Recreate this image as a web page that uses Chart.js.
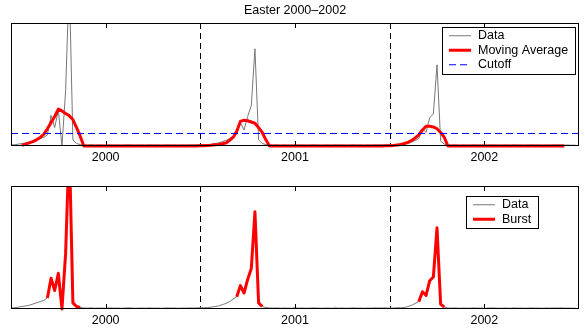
<!DOCTYPE html>
<html lang="en">
<head>
<meta charset="UTF-8">
<title>Easter 2000–2002</title>
<script src="https://cdn.jsdelivr.net/npm/chart.js"></script>
<style>
  html, body { margin: 0; padding: 0; background: #fff; overflow: hidden; }
  .panel { position: absolute; left: 0; width: 585px; }
  #top { top: 0; height: 169px; }
  #bottom { top: 168px; height: 164px; }
</style>
</head>
<body>
<div class="panel" id="top"><canvas id="avgChart" width="585" height="169"></canvas></div>
<div class="panel" id="bottom"><canvas id="burstChart" width="585" height="164"></canvas></div>
<script>
const titleText = 'Easter 2000–2002';
const tickValues = [2000.5, 2001.5, 2002.5];
const tickLabels = ['2000', '2001', '2002'];
const yearBreaks = [2001, 2002];
const startYear = 2000;
const weeksPerYear = 52;
const cutoff = 10.2;
const yMax = 100;

// weekly values, one array per year
const data2000 = [1, 1, 1.5, 2, 2.5, 3, 4, 5, 6, 7,
  9, 25, 15, 29, 0, 45, 135, 5, 2, 1.2,
  0.8, 0.7, 0.9, 0.6, 0.8, 0.7, 0.6, 0.9, 0.7, 0.8,
  0.6, 0.7, 0.9, 0.8, 0.6, 0.7, 0.8, 0.6, 0.9, 0.7,
  0.8, 0.6, 0.7, 0.9, 0.7, 0.8, 0.6, 0.8, 0.7, 0.9,
  0.8, 0.9];
const data2001 = [1, 1, 1.2, 1.5, 2, 2.5, 3.5, 4.5, 6, 8,
  10, 19, 13, 24, 33, 79, 5, 2, 1.2, 0.8,
  0.7, 0.9, 0.6, 0.8, 0.7, 0.6, 0.9, 0.7, 0.8, 0.6,
  0.7, 0.9, 0.8, 0.6, 0.7, 0.8, 0.6, 0.9, 0.7, 0.8,
  0.6, 0.7, 0.9, 0.7, 0.8, 0.6, 0.8, 0.7, 0.9, 0.8,
  0.9, 0.8];
const data2002 = [0.8, 0.8, 1, 1, 1.2, 2, 3, 4.5, 6, 14,
  11, 23, 26, 66, 4, 1.5, 0.8, 0.7, 0.9, 0.6,
  0.8, 0.7, 0.6, 0.9, 0.7, 0.8, 0.6, 0.7, 0.9, 0.8,
  0.6, 0.7, 0.8, 0.6, 0.9, 0.7, 0.8, 0.6, 0.7, 0.9,
  0.7, 0.8, 0.6, 0.8, 0.7, 0.9, 0.8, 0.9, 0.7, 0.8,
  0.6, 0.7];

const avg2000 = [null, null, null, 0.5, 1.5, 2.5, 3.5, 5, 7, 9.5,
  14, 19, 24, 30, 28.5, 26.5, 24.5, 21.5, 15, 8,
  0, 0, 0, 0, 0, 0, 0, 0, 0, 0,
  0, 0, 0, 0, 0, 0, 0, 0, 0, 0,
  0, 0, 0, 0, 0, 0, 0, 0, 0, 0,
  0, 0.1];
const avg2001 = [0.2, 0.3, 0.5, 0.7, 1, 1.3, 1.8, 2.5, 4.5, 7,
  12, 20, 21, 20.5, 19.5, 18.5, 15, 11, 5, 0,
  0, 0, 0, 0, 0, 0, 0, 0, 0, 0,
  0, 0, 0, 0, 0, 0, 0, 0, 0, 0,
  0, 0, 0, 0, 0, 0, 0, 0, 0, 0,
  0.1, 0.2];
const avg2002 = [0.3, 0.5, 0.8, 1.2, 2, 3, 4.5, 6.5, 9, 13,
  16, 16, 15.5, 14, 11, 7, 0, 0, 0, 0,
  0, 0, 0, 0, 0, 0, 0, 0, 0, 0,
  0, 0, 0, 0, 0, 0, 0, 0, 0, 0,
  0, 0, 0, 0, 0, 0, 0, 0, 0, null,
  null, null];

// week index ranges flagged as bursts
const burstWeeks = [[10, 19], [62, 69], [112, 119]];

const series = data2000.concat(data2001, data2002);
const movingAvg = avg2000.concat(avg2001, avg2002);
const weeks = series.map((v, i) => startYear + i / weeksPerYear);
const burst = series.map((v, i) => burstWeeks.some(([a, b]) => i >= a && i <= b) ? v : null);
const pts = arr => arr.map((v, i) => ({ x: weeks[i], y: v }));

const fontFamily = '"Liberation Sans", Arial, Helvetica, sans-serif';
const fontSize = 12.5;

const matlabAxes = {
  id: 'matlabAxes',
  beforeDatasetsDraw(chart) {
    const { ctx, chartArea: a, scales: { x } } = chart;
    ctx.save();
    ctx.strokeStyle = '#000';
    ctx.lineWidth = 1;
    ctx.setLineDash([6, 4]);
    yearBreaks.forEach(v => {
      const px = Math.round(x.getPixelForValue(v)) + 0.5;
      ctx.beginPath();
      ctx.moveTo(px, a.top);
      ctx.lineTo(px, a.bottom);
      ctx.stroke();
    });
    ctx.restore();
  },
  afterDatasetsDraw(chart, args, opts) {
    const { ctx, chartArea: a, scales: { x } } = chart;
    ctx.save();
    ctx.strokeStyle = '#000';
    ctx.lineWidth = 1;
    ctx.setLineDash([]);
    ctx.strokeRect(a.left + 0.5, a.top + 0.5, a.right - a.left - 1, a.bottom - a.top - 1);
    x.ticks.forEach(t => {
      const px = Math.round(x.getPixelForValue(t.value)) + 0.5;
      ctx.beginPath();
      ctx.moveTo(px, a.top);
      ctx.lineTo(px, a.top + 5);
      ctx.moveTo(px, a.bottom);
      ctx.lineTo(px, a.bottom - 5);
      ctx.stroke();
    });

    // boxed legend inside the axes
    const items = chart.data.datasets;
    ctx.font = fontSize + 'px ' + fontFamily;
    const textW = Math.max(...items.map(d => ctx.measureText(d.label).width));
    const rowH = 14.5;
    const w = Math.round(7 + 22 + 7 + textW + 7);
    const h = Math.round(items.length * rowH + 3);
    const bx = Math.round(a.right - opts.right - w);
    const by = Math.round(a.top + opts.top);
    ctx.fillStyle = '#fff';
    ctx.fillRect(bx, by, w, h);
    ctx.strokeRect(bx + 0.5, by + 0.5, w, h);
    ctx.textBaseline = 'middle';
    ctx.textAlign = 'left';
    items.forEach((d, i) => {
      const cy = by + 1.5 + rowH * (i + 0.5);
      ctx.save();
      ctx.setLineDash(d.borderDash || []);
      ctx.strokeStyle = d.borderColor;
      ctx.lineWidth = d.borderWidth;
      ctx.beginPath();
      ctx.moveTo(bx + 7, cy);
      ctx.lineTo(bx + 29, cy);
      ctx.stroke();
      ctx.restore();
      ctx.fillStyle = '#000';
      ctx.fillText(d.label, bx + 36, cy);
    });
    ctx.restore();
  }
};

function makeChart(id, datasets, extra) {
  return new Chart(document.getElementById(id), {
    type: 'line',
    data: { datasets: datasets },
    options: {
      responsive: false,
      animation: false,
      devicePixelRatio: 1,
      layout: { padding: extra.padding },
      elements: { point: { radius: 0 }, line: { tension: 0 } },
      scales: {
        x: {
          type: 'linear',
          min: 2000,
          max: 2003,
          afterBuildTicks: s => { s.ticks = tickValues.map(v => ({ value: v })); },
          ticks: {
            padding: 4,
            color: '#000',
            maxRotation: 0,
            autoSkip: false,
            font: { family: fontFamily, size: fontSize },
            callback: (v, i) => tickLabels[i]
          },
          grid: { display: false, drawTicks: false },
          border: { display: false }
        },
        y: { display: false, min: 0, max: yMax }
      },
      plugins: {
        legend: { display: false },
        tooltip: { enabled: false },
        title: extra.title,
        matlabAxes: extra.legend
      }
    },
    plugins: [matlabAxes]
  });
}

makeChart('avgChart', [
  {
    label: 'Data',
    data: pts(series),
    borderColor: '#777777',
    borderWidth: 1,
    clip: { left: 0, top: 0, right: 0, bottom: 1 },
    order: 3
  },
  {
    label: 'Moving Average',
    data: pts(movingAvg),
    borderColor: '#ff0000',
    borderWidth: 3,
    borderJoinStyle: 'round',
    clip: { left: 0, top: 0, right: 0, bottom: 2 },
    order: 2
  },
  {
    label: 'Cutoff',
    data: [{ x: 2000, y: cutoff }, { x: 2003, y: cutoff }],
    borderColor: '#0000ff',
    borderWidth: 1,
    borderDash: [7, 4],
    order: 1
  }
], {
  padding: { left: 11, right: 6, top: 0, bottom: 0 },
  title: {
    display: true,
    text: titleText,
    color: '#000',
    font: { family: fontFamily, size: fontSize, weight: 'normal' },
    padding: { top: 3, bottom: 5 }
  },
  legend: { right: 4, top: 4 }
});

makeChart('burstChart', [
  {
    label: 'Data',
    data: pts(series),
    borderColor: '#777777',
    borderWidth: 1,
    clip: { left: 0, top: 0, right: 0, bottom: 1 },
    order: 2
  },
  {
    label: 'Burst',
    data: pts(burst),
    borderColor: '#ff0000',
    borderWidth: 3,
    borderJoinStyle: 'round',
    clip: { left: 0, top: 0, right: 0, bottom: 2 },
    order: 1
  }
], {
  padding: { left: 11, right: 6, top: 18, bottom: 0 },
  title: { display: false },
  legend: { right: 41, top: 10 }
});
</script>
</body>
</html>
